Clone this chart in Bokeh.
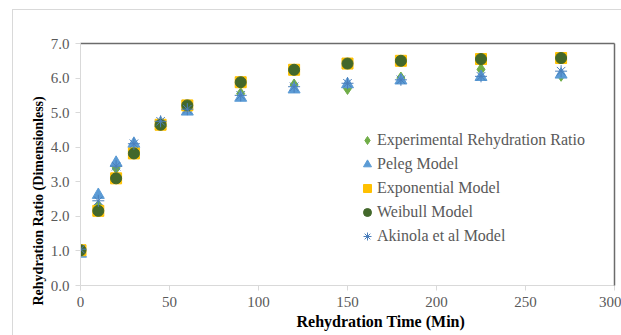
from bokeh.plotting import figure
from bokeh.models import Range1d, LinearAxis, Legend, LegendItem, Title, FixedTicker, NumeralTickFormatter
from bokeh.embed import file_html
from bokeh.resources import INLINE

time_min = [0, 10, 20, 30, 45, 60, 90, 120, 150, 180, 225, 270]
experimental = [1.0, 2.3, 3.4, 4.05, 4.65, 5.15, 5.55, 5.8, 5.7, 6.0, 6.25, 6.08]
peleg = [0.92, 2.62, 3.55, 4.1, 4.7, 5.03, 5.43, 5.67, 5.82, 5.93, 6.03, 6.1]
exponential = [1.02, 2.16, 3.1, 3.82, 4.65, 5.21, 5.88, 6.24, 6.42, 6.5, 6.55, 6.58]
weibull = [1.02, 2.16, 3.1, 3.82, 4.65, 5.21, 5.88, 6.24, 6.42, 6.5, 6.55, 6.58]
akinola = [1.05, 2.45, 3.45, 4.1, 4.75, 5.1, 5.5, 5.75, 5.85, 5.95, 6.05, 6.2]

x_ticks = [0, 50, 100, 150, 200, 250, 300]
y_ticks = [0, 1, 2, 3, 4, 5, 6, 7]

FONT = "'Liberation Serif', 'Times New Roman', serif"
GRAY = "#595959"
LIGHT = "#d9d9d9"

p = figure(width=609, height=326, output_backend="svg", toolbar_location=None,
           x_range=Range1d(0, 300), y_range=Range1d(0, 7),
           min_border_left=67, min_border_right=8, min_border_top=33, min_border_bottom=51)
p.styles = {"margin-left": "12px", "margin-top": "9px",
            "border-left": "1px solid #d9d9d9", "border-top": "1px solid #d9d9d9"}
p.outline_line_color = None
p.xgrid.visible = False
p.ygrid.visible = False
p.background_fill_color = "white"
p.border_fill_color = "white"

for ax in (p.xaxis[0], p.yaxis[0]):
    ax.axis_line_color = LIGHT
    ax.major_tick_line_color = LIGHT
    ax.major_tick_out = 5
    ax.major_tick_in = 0
    ax.minor_tick_line_color = None
    ax.major_label_text_font = FONT
    ax.major_label_text_font_size = "15px"
    ax.major_label_text_color = GRAY
p.xaxis[0].ticker = FixedTicker(ticks=x_ticks)
p.yaxis[0].ticker = FixedTicker(ticks=y_ticks)
p.yaxis[0].formatter = NumeralTickFormatter(format="0.0")
p.xaxis[0].major_label_standoff = 6
p.yaxis[0].major_label_standoff = 6

for loc in ("above", "right"):
    ax = LinearAxis(axis_line_color="#6b6b6b", axis_line_width=1.5,
                    major_tick_line_color=None, minor_tick_line_color=None,
                    major_label_text_font_size="0px", ticker=FixedTicker(ticks=[]))
    p.add_layout(ax, loc)

r_exp = p.scatter(time_min, experimental, marker="diamond", size=12,
                  fill_color="#70ad47", line_color="#70ad47")
r_pel = p.scatter(time_min, peleg, marker="triangle", size=12,
                  fill_color="#5b9bd5", line_color="#5b9bd5")
r_expo = p.scatter(time_min, exponential, marker="square", size=11,
                   fill_color="#ffc000", line_color="#ffc000")
r_wei = p.scatter(time_min, weibull, marker="circle", size=11,
                  fill_color="#43682b", line_color="#43682b")
r_aki = p.scatter(time_min, akinola, marker="asterisk", size=12,
                  line_color="#4a7ebb", line_width=1)

legend = Legend(items=[
    LegendItem(label="Experimental Rehydration Ratio", renderers=[r_exp]),
    LegendItem(label="Peleg Model", renderers=[r_pel]),
    LegendItem(label="Exponential Model", renderers=[r_expo]),
    LegendItem(label="Weibull Model", renderers=[r_wei]),
    LegendItem(label="Akinola et al Model", renderers=[r_aki]),
], location=(277, 37))
legend.label_text_font = FONT
legend.label_text_font_size = "16px"
legend.label_text_color = GRAY
legend.glyph_width = 20
legend.glyph_height = 24
legend.label_height = 24
legend.spacing = 0
legend.padding = 0
legend.margin = 0
legend.label_standoff = 0
legend.border_line_color = None
legend.background_fill_alpha = 0
p.add_layout(legend, "center")

p.add_layout(Title(text="Rehydration Time (Min)", align="left", offset=216, standoff=3,
                   text_font=FONT, text_font_size="16px", text_font_style="bold",
                   text_color="black"), "below")
p.add_layout(Title(text="Rehydration Ratio (Dimensionless)", align="left", offset=-20, standoff=4,
                   text_font=FONT, text_font_size="14px", text_font_style="bold",
                   text_color="black"), "left")

open("out.html", "w").write(file_html(p, INLINE))
